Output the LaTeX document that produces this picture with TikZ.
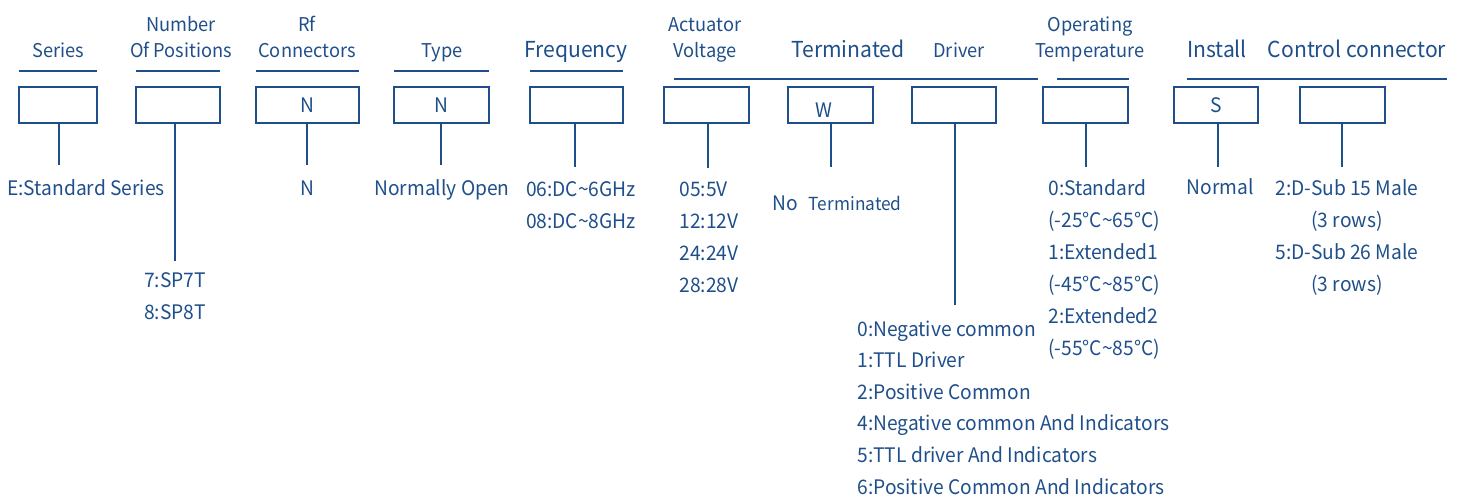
\documentclass[tikz,border=0pt]{standalone}
\usepackage{fontspec}
\setmainfont[FakeStretch=0.96]{Noto Sans CJK SC}
\usetikzlibrary{positioning}
\definecolor{specblue}{RGB}{31,79,139}

\begin{document}
\begin{tikzpicture}[
    x=0.5pt, y=-0.5pt,
    field/.style={
        text=specblue,
        font=\fontsize{9.5}{13}\selectfont,
        anchor=base,
        align=center,
        inner sep=0pt
    },
    big field/.style={
        field,
        font=\fontsize{11}{13}\selectfont
    },
    code box/.style={
        rectangle,
        draw=specblue,
        text=specblue,
        line width=1pt,
        minimum height=18pt,
        inner sep=0pt,
        outer sep=0pt,
        font=\fontsize{10}{12}\selectfont
    },
    value/.style={
        text=specblue,
        font=\fontsize{10}{12}\selectfont,
        anchor=base,
        inner sep=0pt
    },
    stem/.style={draw=specblue, line width=1pt},
    rule/.style={draw=specblue, line width=1.2pt}
]
\useasboundingbox (0,0) rectangle (1464,499);

% Series
\node [field] (h-ser) at (58,57) {Series};
\node [code box, minimum width=39pt] (ser) at (58,105) {};
\draw [rule] ([yshift=8pt]ser.north west) -- ([yshift=8pt]ser.north east);
\coordinate (ser-end) at (59,165);
\draw [stem] (ser.south -| ser-end) -- (ser-end);
\node [value] (v-ser) at (86,195) {E:Standard Series};

% Number of positions
\node [field] (h-num) at (181,57) {Number\\Of Positions};
\node [code box, minimum width=42pt] (num) at (178,105) {};
\draw [rule] ([yshift=8pt]num.north west) -- ([yshift=8pt]num.north east);
\coordinate (num-end) at (175,261);
\draw [stem] (num.south -| num-end) -- (num-end);
\foreach \t [count=\i] in {7:SP7T,8:SP8T}
    \node [value] (v-num-\i) at (175,255+\i*32) {\t};

% Rf connectors
\node [field] (h-rf) at (307,57) {Rf\\Connectors};
\node [code box, minimum width=51.5pt] (rf) at (307.5,105) {N};
\draw [rule] ([yshift=8pt]rf.north west) -- ([yshift=8pt]rf.north east);
\coordinate (rf-end) at (307,165);
\draw [stem] (rf.south -| rf-end) -- (rf-end);
\node [value] (v-rf) at (307,195) {N};

% Type
\node [field] (h-type) at (442,57) {Type};
\node [code box, minimum width=47.5pt] (type) at (441.5,105) {N};
\draw [rule] ([yshift=8pt]type.north west) -- ([yshift=8pt]type.north east);
\coordinate (type-end) at (441,165);
\draw [stem] (type.south -| type-end) -- (type-end);
\node [value] (v-type) at (442,195) {Normally Open};

% Frequency
\node [big field] (h-freq) at (576,57) {Frequency};
\node [code box, minimum width=46.5pt] (freq) at (576.5,105) {};
\draw [rule] ([yshift=8pt]freq.north west) -- ([yshift=8pt]freq.north east);
\coordinate (freq-end) at (575,167);
\draw [stem] (freq.south -| freq-end) -- (freq-end);
\foreach \t [count=\i] in {06:DC\textasciitilde 6GHz,08:DC\textasciitilde 8GHz}
    \node [value] (v-freq-\i) at (581,164+\i*32) {\t};

% Actuator voltage
\node [field] (h-volt) at (705,57) {Actuator\\Voltage};
\node [code box, minimum width=42.5pt] (volt) at (706.5,105) {};
\coordinate (volt-end) at (708,168);
\draw [stem] (volt.south -| volt-end) -- (volt-end);
\foreach \t [count=\i] in {05:5V,12:12V,24:24V,28:28V}
    \node [value, anchor=base west] (v-volt-\i) at (679,164+\i*32) {\t};

% Terminated
\node [big field] (h-term) at (848,57) {Terminated};
\node [code box, minimum width=42.5pt] (term) at (830.5,105) {};
\node [value] (term-w) at (824,117) {W};
\coordinate (term-end) at (831,167);
\draw [stem] (term.south -| term-end) -- (term-end);
\node [value, anchor=base west] (v-term) at (772,210)
    {No\hspace{5.5pt}{\fontsize{9}{11}\selectfont Terminated}};

% Driver
\node [field] (h-drv) at (959,57) {Driver};
\node [code box, minimum width=42pt] (drv) at (954,105) {};
\coordinate (drv-end) at (955,305);
\draw [stem] (drv.south -| drv-end) -- (drv-end);
\foreach \t [count=\i] in {0:Negative common,1:TTL Driver,2:Positive Common,4:Negative common And Indicators,5:TTL driver And Indicators,6:Positive Common And Indicators}
    \node [value, anchor=base west] (v-drv-\i) at (857,304.4+\i*31.6) {\t};

% Operating temperature
\node [field] (h-temp) at (1090,57) {Operating\\Temperature};
\node [code box, minimum width=42.5pt] (temp) at (1085.5,105) {};
\coordinate (temp-end) at (1086,167);
\draw [stem] (temp.south -| temp-end) -- (temp-end);
\foreach \t [count=\i] in {0:Standard,{(-25°C\textasciitilde 65°C)},1:Extended1,{(-45°C\textasciitilde 85°C)},2:Extended2,{(-55°C\textasciitilde 85°C)}}
    \node [value, anchor=base west] (v-temp-\i) at (1048,163+\i*32) {\t};

% Install
\node [big field] (h-inst) at (1217,57) {Install};
\node [code box, minimum width=42pt] (inst) at (1216,105) {S};
\coordinate (inst-end) at (1218,167);
\draw [stem] (inst.south -| inst-end) -- (inst-end);
\node [value] (v-inst) at (1220,194) {Normal};

% Control connector
\node [big field] (h-ctrl) at (1357,57) {Control connector};
\node [code box, minimum width=42.5pt] (ctrl) at (1342.5,105) {};
\coordinate (ctrl-end) at (1342,167);
\draw [stem] (ctrl.south -| ctrl-end) -- (ctrl-end);
\foreach \t [count=\i] in {2:D-Sub 15 Male,{(3 rows)},5:D-Sub 26 Male,{(3 rows)}}
    \node [value] (v-ctrl-\i) at (1347,163+\i*32) {\t};

% Long rules over the right-hand fields
\draw [rule] (674,79) -- (1038,79);
\draw [rule] (1057,79) -- (1129,79);
\draw [rule] (1187,79) -- (1447,79);

\end{tikzpicture}
\end{document}
